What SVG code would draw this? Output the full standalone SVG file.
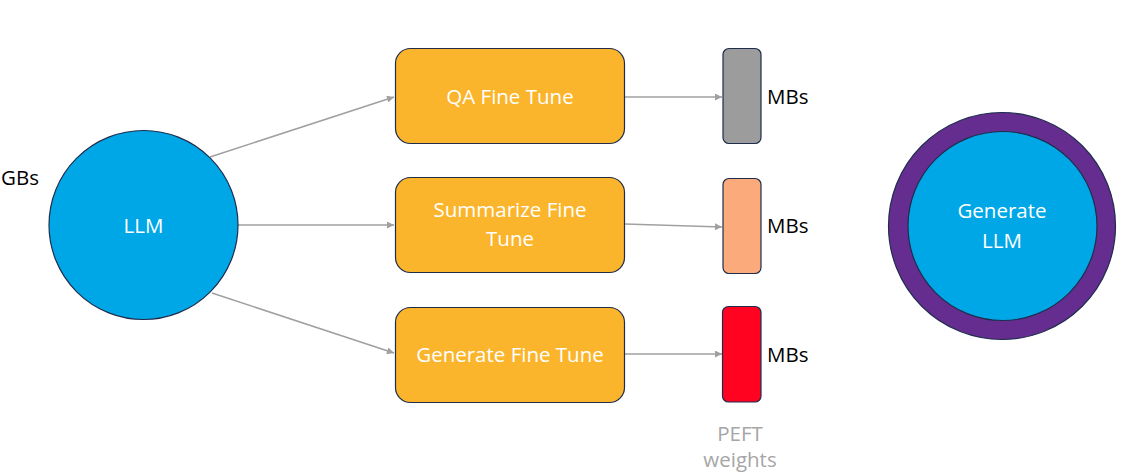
<svg xmlns="http://www.w3.org/2000/svg" width="1128" height="476" viewBox="0 0 1128 476">
<style>
text{font-family:"Open Sans","Noto Sans","DejaVu Sans",sans-serif;font-size:20.5px}
.w{fill:#ffffff;text-anchor:middle}
.k{fill:#000000}
.g{fill:#a6a6a6;text-anchor:middle}
.box{fill:#fbb52c;stroke:#1f2d4d;stroke-width:1.2}
.bar{stroke:#1f2d4d;stroke-width:1.2}
.con{stroke:#a0a0a0;stroke-width:1.6;fill:none;marker-end:url(#ah)}
</style>
<defs>
<marker id="ah" viewBox="0 0 10 10" refX="10" refY="5" markerWidth="9" markerHeight="7" markerUnits="userSpaceOnUse" orient="auto">
<path d="M0,0 L10,5 L0,10 z" fill="#a0a0a0"/>
</marker>
</defs>
<rect width="1128" height="476" fill="#ffffff"/>
<g id="connectors">
<line class="con" x1="210" y1="157" x2="394" y2="97"/>
<line class="con" x1="238" y1="225" x2="394" y2="225"/>
<line class="con" x1="212" y1="293" x2="394" y2="353"/>
<line class="con" x1="625" y1="97" x2="722" y2="97"/>
<line class="con" x1="625" y1="224" x2="722" y2="227"/>
<line class="con" x1="625" y1="354" x2="722" y2="354"/>
</g>
<g id="llm">
<circle cx="143.5" cy="225" r="94.5" fill="#00a7e7" stroke="#1f2d4d" stroke-width="1.2"/>
<text class="w" x="143.5" y="233">LLM</text>
</g>
<g id="gbs"><text class="k" x="1" y="185">GBs</text></g>
<g id="qa">
<rect class="box" x="395.5" y="48.5" width="229" height="95" rx="15"/>
<text class="w" x="510" y="104">QA Fine Tune</text>
</g>
<g id="summarize">
<rect class="box" x="395.5" y="177.5" width="229" height="95" rx="15"/>
<text class="w" x="510" y="217">Summarize Fine</text>
<text class="w" x="510" y="246">Tune</text>
</g>
<g id="generate">
<rect class="box" x="395.5" y="307.5" width="229" height="95" rx="15"/>
<text class="w" x="510" y="362">Generate Fine Tune</text>
</g>
<g id="qa-weights">
<rect class="bar" x="723" y="48.5" width="38" height="95" rx="6" fill="#9c9c9c"/>
<text class="k" x="767" y="104">MBs</text>
</g>
<g id="summarize-weights">
<rect class="bar" x="723" y="178.5" width="38" height="95" rx="6" fill="#fbaa7c"/>
<text class="k" x="767" y="233">MBs</text>
</g>
<g id="generate-weights">
<rect class="bar" x="722.5" y="306.5" width="38.5" height="95.5" rx="6" fill="#ff0320"/>
<text class="k" x="767" y="362">MBs</text>
</g>
<g id="peft-label">
<text class="g" x="740" y="441">PEFT</text>
<text class="g" x="740" y="467">weights</text>
</g>
<g id="generate-llm">
<circle cx="1002" cy="226" r="113.5" fill="#662d91" stroke="#1f2d4d" stroke-width="1.2"/>
<circle cx="1002.5" cy="226" r="94.5" fill="#00a7e7" stroke="#1f2d4d" stroke-width="1.2"/>
<text class="w" x="1002" y="218">Generate</text>
<text class="w" x="1002" y="248">LLM</text>
</g>
</svg>
